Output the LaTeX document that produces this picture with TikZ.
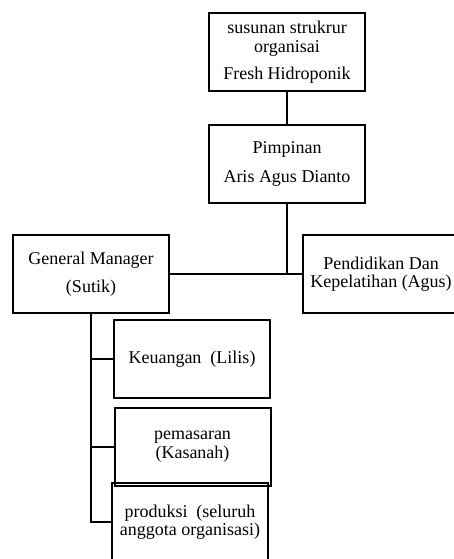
\documentclass[tikz,border=0pt]{standalone}
\usepackage{fontspec}
\setmainfont{Liberation Serif}
\usepackage{tikz}

\begin{document}
\begin{tikzpicture}[x=1pt,y=-1pt,
		kotak/.style={draw, line width=2pt, minimum width=156pt, minimum height=78pt,
			inner sep=0pt, align=center, font=\fontsize{18}{18.5}\selectfont},
		garis/.style={line width=2pt}]
		\useasboundingbox (0,0) rectangle (453,559);
		
		% draw boxes
		\node[kotak] (judul) at (287,52.5) {susunan strukrur\\organisai\\[9pt]Fresh Hidroponik};
		\node[kotak] (pimpinan) at (287,164) {Pimpinan\\[10pt]Aris Agus Dianto};
		\node[kotak] (gm) at (91,274) {General Manager\\[9pt](Sutik)};
		\node[kotak] (pendidikan) at (381,274) {Pendidikan Dan\\Kepelatihan (Agus)};
		\node[kotak] (keuangan) at (192,359) {Keuangan~ (Lilis)};
		\node[kotak] (pemasaran) at (192.5,446.5) {pemasaran\\(Kasanah)};
		\node[kotak] (produksi) at (190,522) {produksi~ (seluruh\\anggota organisasi)};
		
		% draw connectors
		\draw[garis] (judul) -- (pimpinan);
		\draw[garis] (pimpinan.south) -- (pimpinan.south |- gm.east);
		\draw[garis] (gm.east) -- (pendidikan.west);
		\draw[garis] (gm.south) |- (produksi.west);
		\foreach \n in {keuangan,pemasaran}
		\draw[garis] (gm.south |- \n.west) -- (\n.west);
		
\end{tikzpicture}
\end{document}
